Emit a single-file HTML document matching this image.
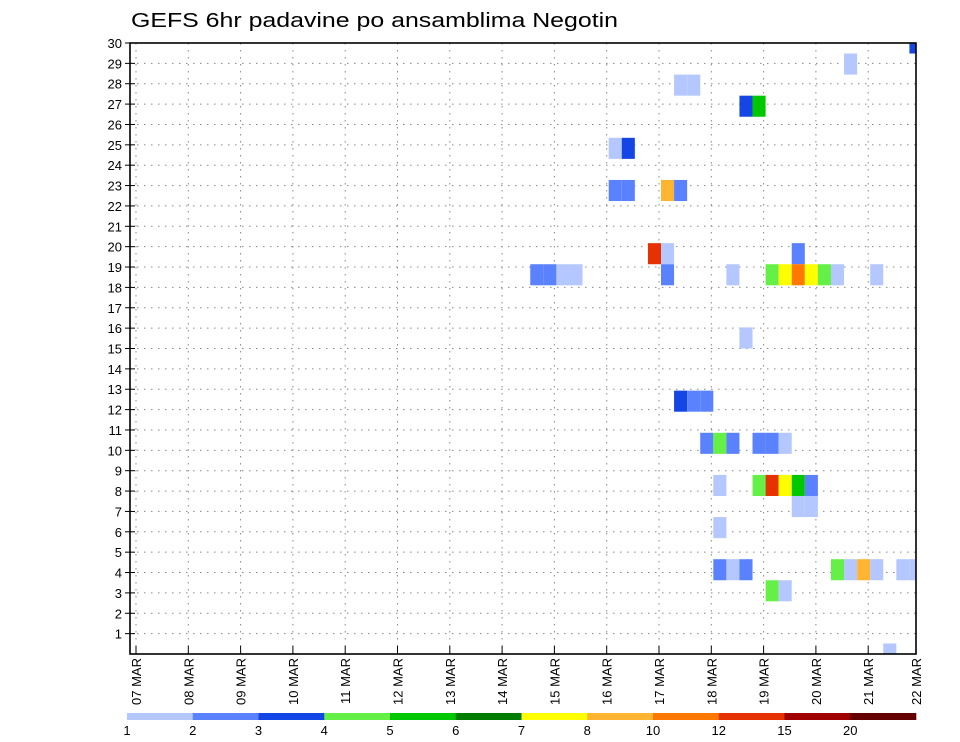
<!DOCTYPE html>
<html><head><meta charset="utf-8"><style>
html,body{margin:0;padding:0;background:#fff;}
svg{display:block;font-family:"Liberation Sans",sans-serif;}
</style></head><body>
<svg id="chart" width="960" height="742" viewBox="0 0 960 742" xmlns="http://www.w3.org/2000/svg">
<text x="131" y="27" font-size="20" textLength="487" lengthAdjust="spacingAndGlyphs" fill="#000">GEFS 6hr padavine po ansamblima Negotin</text>
<g id="grid"></g>
<g id="cells"></g>
<g id="axes"></g>
<g id="cbar"></g>
</svg>
<script>
const dayLabels=["07 MAR","08 MAR","09 MAR","10 MAR","11 MAR","12 MAR","13 MAR","14 MAR","15 MAR","16 MAR","17 MAR","18 MAR","19 MAR","20 MAR","21 MAR","22 MAR"];
const memberTicks=[1,2,3,4,5,6,7,8,9,10,11,12,13,14,15,16,17,18,19,20,21,22,23,24,25,26,27,28,29,30];
const levelLabels=["1","2","3","4","5","6","7","8","10","12","15","20"];
const levelColors=["#b4c8ff","#5a82ff","#1446e6","#64f046","#00c800","#007d00","#ffff00","#ffb432","#ff7800","#e63200","#a00000","#640000"];
// cells: time step (6h from 07 MAR 00Z), member row, colour level index
const cellStep=[59,54,41,42,46,47,36,37,36,37,40,41,39,40,50,30,31,32,33,40,45,48,49,50,51,52,53,56,46,41,42,43,43,44,45,47,48,49,44,47,48,49,50,51,50,51,44,44,45,46,53,54,55,56,58,59,48,49,57];
const cellMember=[29,28,27,27,26,26,24,24,22,22,22,22,19,19,19,18,18,18,18,18,18,18,18,18,18,18,18,18,15,12,12,12,10,10,10,10,10,10,8,8,8,8,8,8,7,7,6,4,4,4,4,4,4,4,4,4,3,3,0];
const cellLevel=[2,0,0,0,2,4,0,2,1,1,7,1,9,0,1,1,1,0,0,1,0,3,6,8,6,3,0,0,0,2,1,1,1,3,1,1,1,0,0,3,9,6,4,1,0,0,0,1,0,1,3,0,7,0,0,0,3,0,0];

const L=130,R=916,T=43,B=654,X0=136,DAY=52.3;
const xDay=d=>X0+d*DAY;
const xStep=t=>X0+2+t*DAY/4;
const yMember=m=>B-m*(B-T)/30;
const yCell=k=>B-k*(B-T)/29;
const NS="http://www.w3.org/2000/svg";
function mk(tag,attrs,parent){const e=document.createElementNS(NS,tag);for(const k in attrs)e.setAttribute(k,attrs[k]);parent.appendChild(e);return e;}
const grid=document.getElementById('grid'),cells=document.getElementById('cells'),axes=document.getElementById('axes'),cbar=document.getElementById('cbar');

mk('clipPath',{id:'pc'},document.getElementById('chart'));
mk('rect',{x:L,y:T,width:R-L,height:B-T},document.getElementById('pc'));

memberTicks.forEach(m=>{
  const y=yMember(m);
  const g=mk('line',{x1:L,x2:R,y1:y,y2:y,stroke:'#888','stroke-width':1,'stroke-dasharray':'1.5,5.5'},grid);
  
  
  const tk=mk('line',{x1:L-5,x2:L+5,y1:y,y2:y,stroke:'#000','stroke-width':1},axes);
  
  
  const t=mk('text',{x:L-8,y:y+5,'font-size':13,'text-anchor':'end',fill:'#000'},axes);
  t.textContent=m;
  
  
});
dayLabels.forEach((lab,i)=>{
  const x=xDay(i);
  if(x<=R){
    const g=mk('line',{x1:x,x2:x,y1:T,y2:B,stroke:'#888','stroke-width':1,'stroke-dasharray':'1.5,5.5'},grid);
    
    
    const tk=mk('line',{x1:x,x2:x,y1:B-8,y2:B,stroke:'#000','stroke-width':1},axes);
    
    
  }
  const lx=Math.min(x,R)+5;
  const t=mk('text',{x:0,y:0,'font-size':13,'text-anchor':'end',fill:'#000',transform:`translate(${lx},${B+4}) rotate(-90)`},axes);
  t.textContent=lab;
  
  
});
const cg=mk('g',{'clip-path':'url(#pc)'},cells);
const ch=(B-T)/29;
cellStep.forEach((t,i)=>{
  const r=mk('rect',{x:xStep(t),y:yCell(cellMember[i])-ch/2,width:DAY/4,height:ch,fill:levelColors[cellLevel[i]]},cg);
  
  
});
const fr=mk('rect',{x:L,y:T,width:R-L,height:B-T,fill:'none',stroke:'#000','stroke-width':1.6},axes);



const CB0=127,CB1=916,segW=(CB1-CB0)/levelColors.length;
levelColors.forEach((c,i)=>{
  const r=mk('rect',{x:CB0+i*segW,y:713,width:segW+0.3,height:7,fill:c},cbar);
  
  
});
levelLabels.forEach((lab,i)=>{
  const t=mk('text',{x:CB0+i*segW,y:735,'font-size':13,'text-anchor':'middle',fill:'#000'},cbar);
  t.textContent=lab;
  
  
});
</script>
</body></html>
